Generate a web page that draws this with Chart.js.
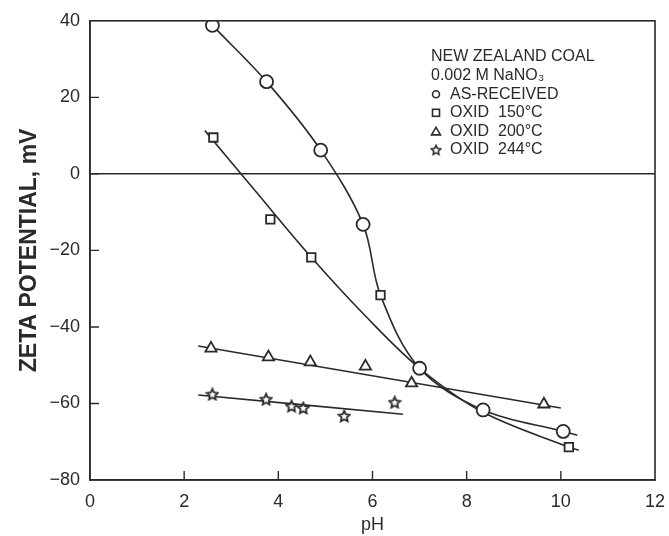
<!DOCTYPE html>
<html>
<head>
<meta charset="utf-8">
<script src="https://cdn.jsdelivr.net/npm/chart.js@4/dist/chart.umd.min.js"></script>
<style>
  html, body { margin: 0; padding: 0; background: #fff; }
  #wrap { width: 669px; height: 536px; }
</style>
</head>
<body>
<div id="wrap"><canvas id="zeta"></canvas></div>
<script>
// --- dati ---
const xTicks = [0, 2, 4, 6, 8, 10, 12];
const yTicks = [-80, -60, -40, -20, 0, 20, 40];

// punti misurati
const phRecv = [2.6, 3.75, 4.9, 5.8, 7.0, 8.35, 10.05];
const zetaRecv = [38.8, 24.1, 6.2, -13.2, -50.8, -61.7, -67.3];
const ph150 = [2.62, 3.83, 4.7, 6.17, 7.0, 10.17];
const zeta150 = [9.5, -11.9, -21.8, -31.7, -50.8, -71.4];
const ph200 = [2.57, 3.79, 4.68, 5.85, 6.83, 9.64];
const zeta200 = [-45.6, -47.9, -49.2, -50.3, -54.7, -60.2];
const ph244 = [2.6, 3.74, 4.28, 4.53, 5.4, 6.47];
const zeta244 = [-57.6, -58.9, -60.7, -61.2, -63.3, -59.7];

// curve tracciate a mano nel grafico originale
const curveRecvX = [2.6, 3.75, 4.9, 5.8, 6.17, 7.0, 8.35, 10.05, 10.35];
const curveRecvY = [38.8, 24.1, 6.2, -13.2, -31.7, -50.8, -61.7, -67.3, -68.3];
const curve150X = [2.44, 3.5, 4.7, 5.8, 7.0, 8.35, 10.17, 10.38];
const curve150Y = [11.3, -4.3, -21.8, -36.5, -50.8, -62.3, -71.4, -72.2];
const line200X = [2.3, 10.0];
const line200Y = [-45.0, -61.2];
const line244X = [2.3, 6.65];
const line244Y = [-57.8, -62.8];

const legendTitle = ['NEW ZEALAND COAL', '0.002 M NaNO\u2083'];
const labels = ['AS-RECEIVED', 'OXID  150\u00b0C', 'OXID  200\u00b0C', 'OXID  244\u00b0C'];

const INK = '#2a2a2a';
const FONT = "'Liberation Sans', Arial, sans-serif";

function pts(xs, ys) { return xs.map((x, i) => ({ x: x, y: ys[i] })); }

// stella a 5 punte (vuota) come immagine per pointStyle
function makeStar(size) {
    const c = document.createElement('canvas');
    c.width = size; c.height = size;
    const g = c.getContext('2d');
    const cx = size / 2, cy = size / 2 + 0.5, ro = size / 2 - 1.2, ri = ro * 0.48;
    g.beginPath();
    for (let i = 0; i < 10; i++) {
        const r = i % 2 === 0 ? ro : ri;
        const a = -Math.PI / 2 + i * Math.PI / 5;
        const px = cx + r * Math.cos(a), py = cy + r * Math.sin(a);
        if (i === 0) g.moveTo(px, py); else g.lineTo(px, py);
    }
    g.closePath();
    g.fillStyle = '#fff';
    g.fill();
    g.lineWidth = 1.8;
    g.strokeStyle = INK;
    g.stroke();
    return c;
}
const starImg = makeStar(14);

function curveSet(data) {
    return {
        data: data, showLine: true, pointRadius: 0, borderColor: INK,
        borderWidth: 1.6, tension: 0.35, fill: false, order: 2
    };
}
function markerSet(label, data, style, r) {
    return {
        label: label, data: data, showLine: false, pointStyle: style,
        pointRadius: r, pointBorderWidth: 1.8, pointBorderColor: INK,
        pointBackgroundColor: '#fff', order: 1
    };
}

// cornice, tacche interne e legenda testuale
const framePlugin = {
    id: 'frame',
    afterDraw(chart) {
        const ctx = chart.ctx, a = chart.chartArea;
        const xs = chart.scales.x, ys = chart.scales.y;
        ctx.save();
        ctx.strokeStyle = INK;
        ctx.lineWidth = 1.6;
        ctx.strokeRect(a.left, a.top, a.right - a.left, a.bottom - a.top);
        ctx.lineWidth = 1.4;
        ctx.beginPath();
        yTicks.slice(1, -1).forEach(v => {
            const y = ys.getPixelForValue(v);
            ctx.moveTo(a.left, y); ctx.lineTo(a.left + 9, y);
        });
        xTicks.slice(1, -1).forEach(v => {
            const x = xs.getPixelForValue(v);
            ctx.moveTo(x, a.bottom); ctx.lineTo(x, a.bottom - 9);
        });
        ctx.stroke();

        // legenda
        const lx = 431, ly = 57, lh = 18.6;
        ctx.fillStyle = INK;
        ctx.font = '16px ' + FONT;
        ctx.textBaseline = 'middle';
        ctx.textAlign = 'left';
        ctx.fillText(legendTitle[0], lx, ly);
        ctx.fillText(legendTitle[1], lx, ly + lh);
        const styles = ['circle', 'rect', 'triangle', 'star'];
        labels.forEach((t, i) => {
            const y = ly + lh * (i + 2);
            const mx = lx + 5;
            ctx.lineWidth = 1.6;
            ctx.strokeStyle = INK;
            ctx.fillStyle = '#fff';
            ctx.beginPath();
            if (styles[i] === 'circle') {
                ctx.arc(mx, y, 3.5, 0, Math.PI * 2);
                ctx.stroke();
            } else if (styles[i] === 'rect') {
                ctx.strokeRect(mx - 3.5, y - 3.5, 7, 7);
            } else if (styles[i] === 'triangle') {
                ctx.moveTo(mx, y - 4); ctx.lineTo(mx + 4.5, y + 3.5); ctx.lineTo(mx - 4.5, y + 3.5);
                ctx.closePath(); ctx.stroke();
            } else {
                ctx.drawImage(starImg, mx - 6, y - 6, 12, 12);
            }
            ctx.fillStyle = INK;
            ctx.fillText(t, lx + 19, y);
        });
        ctx.restore();
    }
};

new Chart(document.getElementById('zeta'), {
    type: 'scatter',
    data: {
        datasets: [
            curveSet(pts(curveRecvX, curveRecvY)),
            curveSet(pts(curve150X, curve150Y)),
            curveSet(pts(line200X, line200Y)),
            curveSet(pts(line244X, line244Y)),
            markerSet(labels[0], pts(phRecv, zetaRecv), 'circle', 6.5),
            markerSet(labels[1], pts(ph150, zeta150), 'rect', 6),
            markerSet(labels[2], pts(ph200, zeta200), 'triangle', 6.5),
            markerSet(labels[3], pts(ph244, zeta244), starImg, 7)
        ]
    },
    options: {
        responsive: true,
        maintainAspectRatio: false,
        animation: false,
        layout: { padding: { top: 20, right: 14, left: 0, bottom: 0 } },
        plugins: { legend: { display: false }, tooltip: { enabled: false } },
        scales: {
            x: {
                type: 'linear', min: 0, max: 12,
                afterBuildTicks: s => { s.ticks = xTicks.map(v => ({ value: v })); },
                afterFit: s => { s.height = 56; },
                grid: { display: false },
                border: { display: true, color: INK, width: 1.6 },
                ticks: { color: INK, font: { family: FONT, size: 18 }, padding: 3, maxRotation: 0 },
                title: { display: true, text: 'pH', color: INK, font: { family: FONT, size: 18 }, padding: { top: 0, bottom: 0 } }
            },
            y: {
                type: 'linear', min: -80, max: 40,
                afterBuildTicks: s => { s.ticks = yTicks.map(v => ({ value: v })); },
                afterFit: s => { s.width = 90; },
                grid: {
                    drawTicks: false,
                    color: c => (c.tick && c.tick.value === 0) ? INK : 'rgba(0,0,0,0)',
                    lineWidth: 1.6
                },
                border: { display: true, color: INK, width: 1.6 },
                ticks: {
                    color: INK, font: { family: FONT, size: 18 }, padding: 10,
                    callback: v => String(v).replace('-', '\u2212')
                },
                title: { display: true, text: 'ZETA POTENTIAL, mV', color: INK, font: { family: FONT, size: 23, weight: 'bold' }, padding: { top: 16, bottom: 0 } }
            }
        }
    },
    plugins: [framePlugin]
});
</script>
</body>
</html>
